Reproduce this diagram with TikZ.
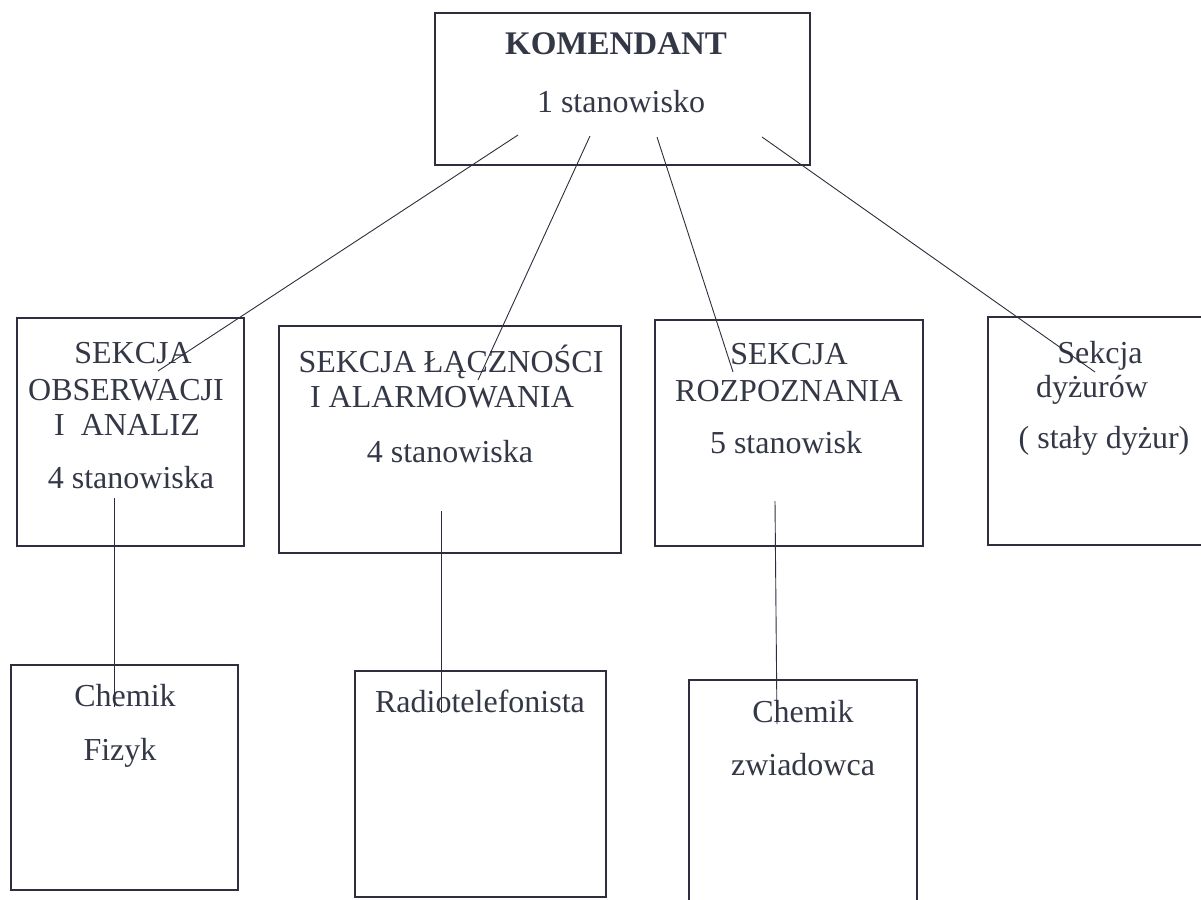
\documentclass[tikz,border=0pt]{standalone}
\usepackage{fontspec}
\setmainfont{Liberation Serif}
\definecolor{ink}{RGB}{45,47,62}
\definecolor{txt}{RGB}{52,56,70}
\begin{document}
\begin{tikzpicture}[x=1pt,y=-1pt,
  box/.style={draw=ink,line width=1.2pt,anchor=north west,inner sep=0pt,outer sep=0pt},
  lbl/.style={anchor=base,text=txt,font=\fontsize{32}{37}\selectfont,inner sep=0pt},
  conn/.style={draw=ink,line width=0.9pt}]
\useasboundingbox (0,0) rectangle (1201,899);
\clip (0,0) rectangle (1201,899);
\fill[white] (0,0) rectangle (1201,899);
% boxes
\node[box,minimum width=375pt,minimum height=152pt] (kom) at (435,13) {};
\node[box,minimum width=227pt,minimum height=228pt] (obs) at (17,318) {};
\node[box,minimum width=342pt,minimum height=227pt] (lacz) at (279,326) {};
\node[box,minimum width=268pt,minimum height=226pt] (roz) at (655,320) {};
\node[box,minimum width=240pt,minimum height=228pt] (dyz) at (988,317) {};
\node[box,minimum width=227pt,minimum height=225pt] (chf) at (11,665) {};
\node[box,minimum width=251pt,minimum height=226pt] (radio) at (355,671) {};
\node[box,minimum width=228pt,minimum height=240pt] (chz) at (689,680) {};
% texts
\node[lbl,font=\fontsize{33}{37}\selectfont\bfseries] (t-kom1) at (616,55) {KOMENDANT};
\node[lbl] (t-kom2) at (621,112) {1 stanowisko};
\node[lbl] (t-obs1) at (133,363) {SEKCJA};
\node[lbl] (t-obs2) at (126,400) {OBSERWACJI};
\node[lbl] (t-obs3) at (127,435) {I~~ANALIZ};
\node[lbl] (t-obs4) at (131,488) {4 stanowiska};
\node[lbl] (t-lacz1) at (451,372) {SEKCJA ŁĄCZNOŚCI};
\node[lbl] (t-lacz2) at (442,407) {I ALARMOWANIA};
\node[lbl] (t-lacz3) at (450,462) {4 stanowiska};
\node[lbl] (t-roz1) at (789,364) {SEKCJA};
\node[lbl] (t-roz2) at (789,401) {ROZPOZNANIA};
\node[lbl] (t-roz3) at (786,453) {5 stanowisk};
\node[lbl] (t-dyz1) at (1100,363) {Sekcja};
\node[lbl] (t-dyz2) at (1092,397) {dyżurów};
\node[lbl] (t-dyz3) at (1104,448) {(~stały dyżur)};
\node[lbl] (t-chf1) at (125,706) {Chemik};
\node[lbl] (t-chf2) at (120,760) {Fizyk};
\node[lbl] (t-radio) at (480,712) {Radiotelefonista};
\node[lbl] (t-chz1) at (803,722) {Chemik};
\node[lbl] (t-chz2) at (803,775) {zwiadowca};
% connector ends
\coordinate (k1) at (518,135);
\coordinate (k2) at (590,136);
\coordinate (k3) at (657,137);
\coordinate (k4) at (762,137);
\coordinate (e1) at (158,371);
\coordinate (e2) at (478,380);
\coordinate (e3) at (733,372);
\coordinate (e4) at (1095,372);
\coordinate (v1a) at (114,498);
\coordinate (v1b) at (114,707);
\coordinate (v2a) at (441,511);
\coordinate (v2b) at (441,713);
\coordinate (v3a) at (775,501);
\coordinate (v3b) at (777,724);
% connectors
\draw[conn] (k1) -- (e1);
\draw[conn] (k2) -- (e2);
\draw[conn] (k3) -- (e3);
\draw[conn] (k4) -- (e4);
\draw[conn] (v1a) -- (v1b);
\draw[conn] (v2a) -- (v2b);
\draw[conn] (v3a) -- (v3b);
\end{tikzpicture}
\end{document}
